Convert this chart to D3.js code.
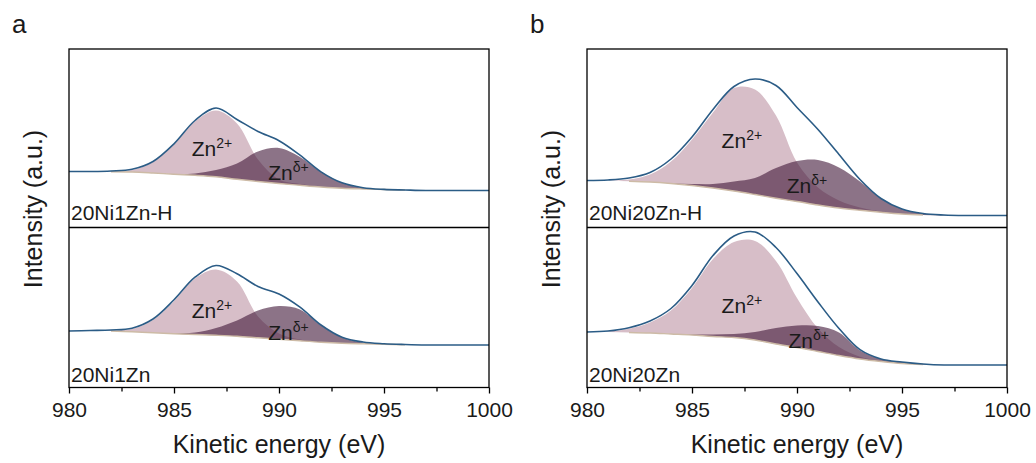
<!DOCTYPE html>
<html>
<head>
<meta charset="utf-8">
<script src="https://cdn.jsdelivr.net/npm/d3@7"></script>
<style>
  body { margin: 0; background: #fff; }
  text { font-family: "Liberation Sans", Arial, sans-serif; fill: #1a1a1a; }
</style>
</head>
<body>
<div id="chart"></div>
<script>
// kinetic energy grid (eV), shared by every spectrum
const energy = [980, 981, 982, 983, 984, 985, 986, 987, 988, 989, 990,
                991, 992, 993, 994, 995, 996, 997, 998, 999, 1000];
const majorTicks = [980, 985, 990, 995, 1000];
const minorTicks = [982.5, 987.5, 992.5, 997.5];

// 20Ni1Zn-H  (intensity, a.u.)
const h1Envelope   = [5.6, 5.6, 5.65, 5.82, 6.6, 8.37, 10.7, 11.95, 10.8, 9.6, 8.68, 7.24, 5.57, 4.47, 3.98, 3.81, 3.75, 3.7, 3.7, 3.7, 3.7];
const h1Background = [5.6, 5.6, 5.58, 5.55, 5.45, 5.33, 5.22, 5.07, 4.82, 4.6, 4.4, 4.22, 4.05, 3.92, 3.85, 3.8, 3.75, 3.7, 3.7, 3.7, 3.7];
const h1Zn2        = [5.6, 5.6, 5.6, 5.75, 6.55, 8.3, 10.6, 11.7, 10.4, 6.8, 4.8, 4.35, 4.07, 3.92, 3.85, 3.8, 3.75, 3.7, 3.7, 3.7, 3.7];
const h1Znd        = [5.6, 5.6, 5.58, 5.55, 5.45, 5.35, 5.4, 5.75, 6.4, 7.6, 7.95, 7.05, 5.55, 4.47, 3.95, 3.8, 3.75, 3.7, 3.7, 3.7, 3.7];

// 20Ni1Zn
const n1Envelope   = [5.65, 5.7, 5.75, 5.93, 6.85, 8.77, 11.03, 12.2, 11.37, 10.1, 9.35, 8.03, 6.25, 5.03, 4.55, 4.38, 4.3, 4.25, 4.25, 4.25, 4.25];
const n1Background = [5.65, 5.68, 5.65, 5.57, 5.47, 5.38, 5.3, 5.22, 5.12, 4.97, 4.82, 4.67, 4.53, 4.43, 4.37, 4.32, 4.28, 4.25, 4.25, 4.25, 4.25];
const n1Zn2        = [5.65, 5.7, 5.73, 5.85, 6.75, 8.65, 10.9, 11.8, 10.6, 7.1, 5.4, 4.8, 4.55, 4.43, 4.37, 4.32, 4.28, 4.25, 4.25, 4.25, 4.25];
const n1Znd        = [5.65, 5.68, 5.65, 5.57, 5.47, 5.4, 5.5, 5.95, 6.7, 7.7, 8.15, 7.8, 6.2, 5.0, 4.5, 4.33, 4.28, 4.25, 4.25, 4.25, 4.25];

// 20Ni20Zn-H
const h20Envelope   = [4.7, 4.75, 4.95, 5.5, 6.85, 9.05, 11.8, 14.1, 14.85, 14.2, 12.0, 9.8, 7.3, 4.8, 2.9, 1.85, 1.4, 1.25, 1.2, 1.2, 1.2];
const h20Background = [4.7, 4.68, 4.63, 4.55, 4.4, 4.2, 3.95, 3.65, 3.3, 2.93, 2.6, 2.25, 1.95, 1.72, 1.52, 1.35, 1.25, 1.2, 1.2, 1.2, 1.2];
const h20Zn2        = [4.7, 4.68, 4.8, 5.3, 6.6, 8.8, 11.5, 13.95, 13.8, 11.2, 6.5, 4.0, 2.7, 2.0, 1.6, 1.4, 1.27, 1.2, 1.2, 1.2, 1.2];
const h20Znd        = [4.7, 4.68, 4.63, 4.55, 4.4, 4.35, 4.35, 4.6, 4.95, 5.95, 6.65, 6.75, 6.0, 4.6, 2.9, 1.85, 1.4, 1.25, 1.2, 1.2, 1.2];

// 20Ni20Zn
const n20Envelope   = [5.55, 5.65, 5.98, 6.65, 7.9, 10.2, 13.2, 15.15, 15.55, 14.0, 11.39, 8.55, 5.9, 3.78, 2.85, 2.55, 2.35, 2.25, 2.25, 2.25, 2.25];
const n20Background = [5.55, 5.55, 5.5, 5.45, 5.35, 5.25, 5.1, 5.0, 4.75, 4.35, 4.0, 3.6, 3.2, 2.85, 2.6, 2.4, 2.3, 2.25, 2.25, 2.25, 2.25];
const n20Zn2        = [5.55, 5.6, 5.88, 6.5, 7.7, 9.95, 12.85, 14.55, 14.65, 12.65, 8.95, 5.9, 4.05, 3.08, 2.65, 2.42, 2.3, 2.25, 2.25, 2.25, 2.25];
const n20Znd        = [5.55, 5.55, 5.5, 5.45, 5.35, 5.3, 5.3, 5.35, 5.55, 5.95, 6.2, 6.15, 5.5, 3.7, 2.85, 2.55, 2.35, 2.25, 2.25, 2.25, 2.25];

const sampleNames = ["20Ni1Zn-H", "20Ni1Zn", "20Ni20Zn-H", "20Ni20Zn"];
// where the peak names sit: [energy, intensity]
const zn2LabelAt = [[985.84, 7.13], [985.84, 6.92], [986.41, 7.97], [986.41, 7.42]];
const zndLabelAt = [[989.49, 4.8], [989.49, 4.75], [989.51, 3.47], [989.59, 3.92]];

const spectra = [
  {env: h1Envelope, bg: h1Background, zn2: h1Zn2, znd: h1Znd},
  {env: n1Envelope, bg: n1Background, zn2: n1Zn2, znd: n1Znd},
  {env: h20Envelope, bg: h20Background, zn2: h20Zn2, znd: h20Znd},
  {env: n20Envelope, bg: n20Background, zn2: n20Zn2, znd: n20Znd}
];

const width = 1036, height = 463;
const plotW = 420, plotTop = 49, split = 227.5, plotBottom = 387.5;
const panels = [
  {letter: "a", left: 69, letterX: 12, items: [0, 1]},
  {letter: "b", left: 587, letterX: 530, items: [2, 3]}
];

const svg = d3.select("#chart").append("svg")
  .attr("width", width)
  .attr("height", height);

const curve = d3.curveCatmullRom.alpha(0.5);

panels.forEach(function(p) {
  const g = svg.append("g");
  const x = d3.scaleLinear().domain([980, 1000]).range([p.left, p.left + plotW]);

  const rows = [{y0: plotTop, y1: split}, {y0: split, y1: plotBottom}];

  p.items.forEach(function(si, r) {
    const s = spectra[si];
    const row = rows[r];
    const y = d3.scaleLinear().domain([0, (row.y1 - row.y0) / 10]).range([row.y1, row.y0]);
    const pts = energy.map((e, i) => ({e: e, env: s.env[i], bg: s.bg[i], zn2: s.zn2[i], znd: s.znd[i]}));

    const areaOf = key => d3.area().curve(curve)
      .x(d => x(d.e)).y0(d => y(d.bg)).y1(d => y(d[key]));

    // Zn2+ component
    g.append("path").datum(pts)
      .attr("d", areaOf("zn2"))
      .attr("fill", "#d7bec8");
    // Zn delta+ component, translucent over Zn2+
    g.append("path").datum(pts)
      .attr("d", areaOf("znd"))
      .attr("fill", "#3f1637")
      .attr("fill-opacity", 0.6);
    // background
    g.append("path").datum(pts)
      .attr("d", d3.line().curve(curve).defined(d => d.e >= 982 && d.e <= 996)
        .x(d => x(d.e)).y(d => y(d.bg)))
      .attr("fill", "none")
      .attr("stroke", "#cdbba6")
      .attr("stroke-width", 1.4);
    // envelope
    g.append("path").datum(pts)
      .attr("d", d3.line().curve(curve).x(d => x(d.e)).y(d => y(d.env)))
      .attr("fill", "none")
      .attr("stroke", "#2b5c86")
      .attr("stroke-width", 1.6);

    // peak names
    const t1 = g.append("text")
      .attr("x", x(zn2LabelAt[si][0])).attr("y", y(zn2LabelAt[si][1]))
      .style("font-size", "21px").text("Zn");
    t1.append("tspan").attr("dy", -8).style("font-size", "14px").text("2+");
    const t2 = g.append("text")
      .attr("x", x(zndLabelAt[si][0])).attr("y", y(zndLabelAt[si][1]))
      .style("font-size", "21px").text("Zn");
    t2.append("tspan").attr("dy", -8).style("font-size", "14px").text("δ+");

    // sample name
    g.append("text")
      .attr("x", p.left + 2)
      .attr("y", row.y1 - (r === 0 ? 7.5 : 6))
      .style("font-size", "21px")
      .text(sampleNames[si]);
  });

  // frame and divider
  g.append("rect")
    .attr("x", p.left).attr("y", plotTop)
    .attr("width", plotW).attr("height", plotBottom - plotTop)
    .attr("fill", "none").attr("stroke", "#000").attr("stroke-width", 1.3);
  g.append("line")
    .attr("x1", p.left).attr("x2", p.left + plotW)
    .attr("y1", split).attr("y2", split)
    .attr("stroke", "#000").attr("stroke-width", 1.3);

  // x axis
  const ax = g.append("g")
    .attr("transform", `translate(0, ${plotBottom})`)
    .call(d3.axisBottom(x).tickValues(majorTicks).tickSize(6).tickPadding(9).tickFormat(d3.format("d")));
  ax.select(".domain").remove();
  ax.selectAll("line").attr("stroke", "#000").attr("stroke-width", 1.3);
  ax.selectAll("text").style("font-size", "21px").attr("fill", "#1a1a1a")
    .style("font-family", '"Liberation Sans", Arial, sans-serif');

  const mx = g.append("g")
    .attr("transform", `translate(0, ${plotBottom})`)
    .call(d3.axisBottom(x).tickValues(minorTicks).tickSize(4).tickFormat(""));
  mx.select(".domain").remove();
  mx.selectAll("line").attr("stroke", "#000").attr("stroke-width", 1.3);

  // axis titles
  g.append("text")
    .attr("x", p.left + plotW / 2).attr("y", 453)
    .attr("text-anchor", "middle")
    .style("font-size", "25px")
    .text("Kinetic energy (eV)");
  g.append("text")
    .attr("transform", `translate(${p.left - 27}, 209) rotate(-90)`)
    .attr("text-anchor", "middle")
    .style("font-size", "25px")
    .text("Intensity (a.u.)");

  // panel letter
  g.append("text")
    .attr("x", p.letterX).attr("y", 33)
    .style("font-size", "26px")
    .text(p.letter);
});
</script>
</body>
</html>
